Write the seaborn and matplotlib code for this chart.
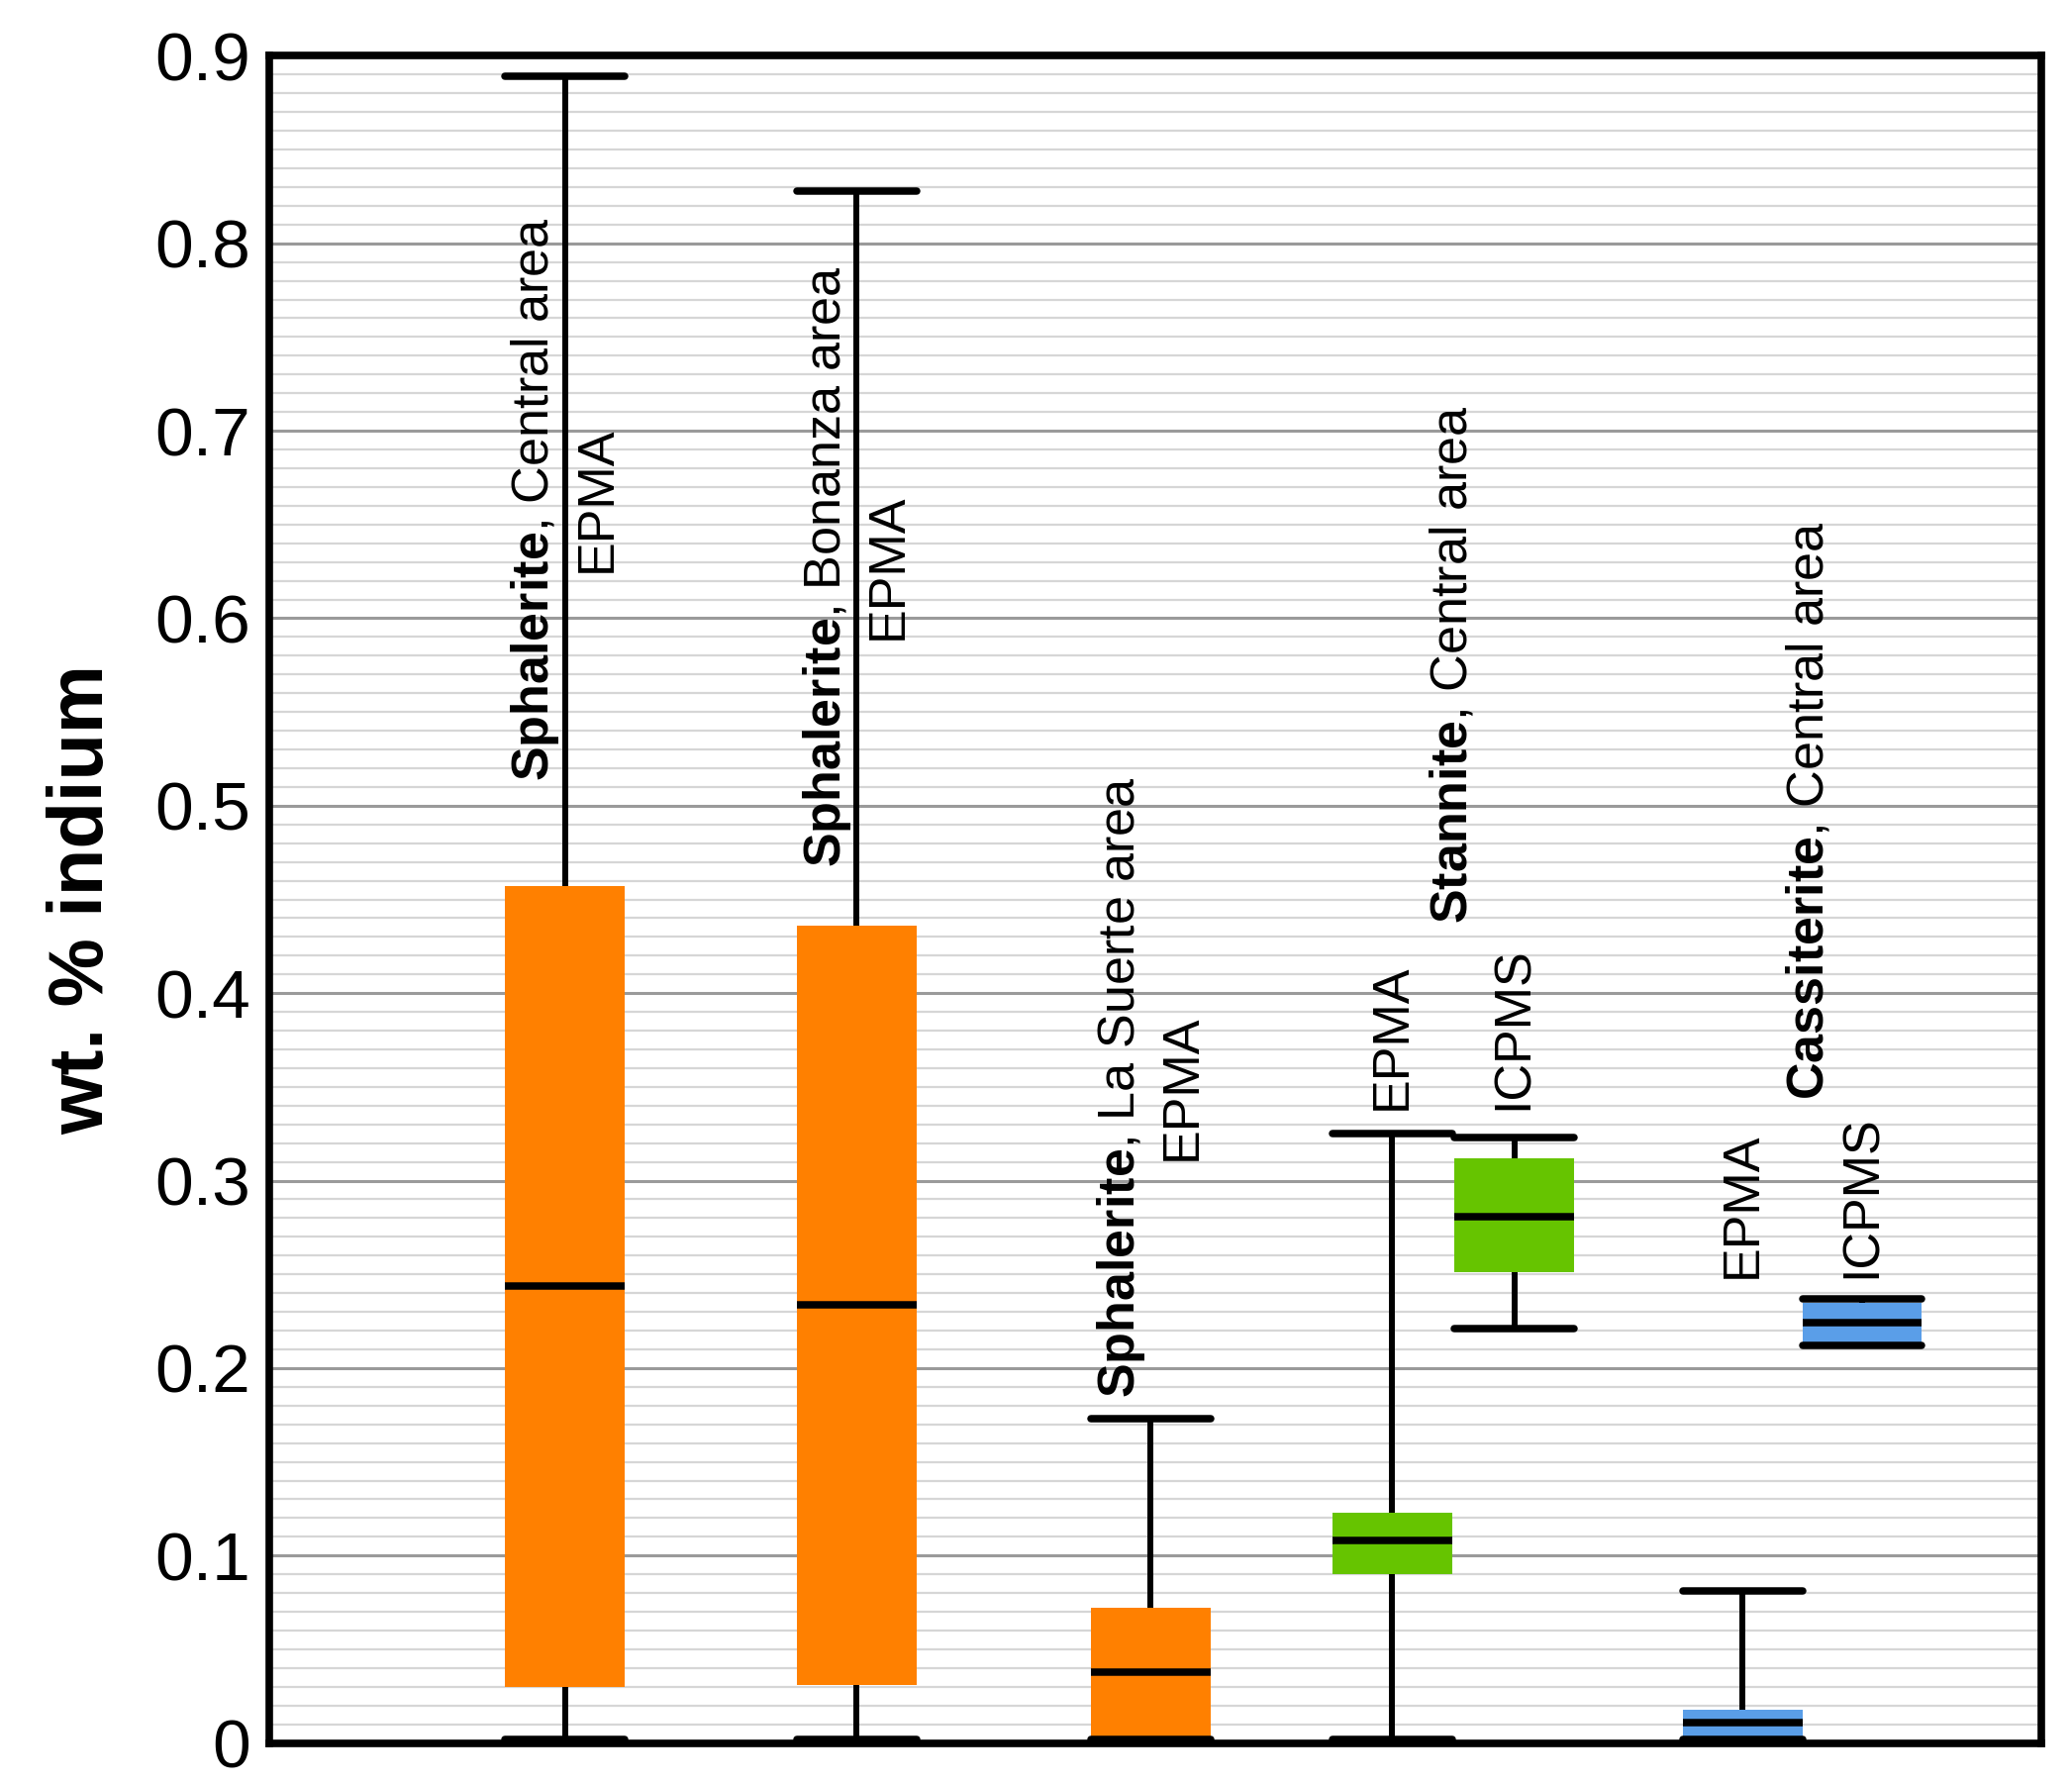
import numpy as np
import pandas as pd
import matplotlib.pyplot as plt
import seaborn as sns
from matplotlib.ticker import MultipleLocator, FuncFormatter

# box positions (native x scale, one unit = one box width) and five-number summaries
positions = [2.47, 4.91, 7.37, 9.39, 10.41, 12.32, 13.32]
minerals = ["Sphalerite", "Sphalerite", "Sphalerite", "Stannite", "Stannite",
            "Cassiterite", "Cassiterite"]
mins = [0.002, 0.002, 0.002, 0.002, 0.221, 0.002, 0.212]
q1s = [0.030, 0.031, 0.002, 0.090, 0.251, 0.002, 0.213]
medians = [0.244, 0.234, 0.038, 0.108, 0.281, 0.011, 0.224]
q3s = [0.457, 0.436, 0.072, 0.123, 0.312, 0.018, 0.235]
maxs = [0.889, 0.828, 0.173, 0.325, 0.323, 0.081, 0.237]

colors = {"Sphalerite": "#FF8000", "Stannite": "#66C400", "Cassiterite": "#5A9EE8"}

# annotation labels (rotated), x position and y of the label start
label_texts = [
    "$\\bf{Sphalerite}$, Central area\nEPMA",
    "$\\bf{Sphalerite}$, Bonanza area\nEPMA",
    "$\\bf{Sphalerite}$, La Suerte area\nEPMA",
    "EPMA",
    "$\\bf{Stannite}$, Central area",
    "ICPMS",
    "EPMA",
    "$\\bf{Cassiterite}$, Central area",
    "ICPMS",
]
label_x = [2.47, 4.91, 7.37, 9.39, 9.9, 10.41, 12.32, 12.88, 13.32]
label_y = [0.513, 0.467, 0.184, 0.338, 0.437, 0.338, 0.248, 0.343, 0.248]

# five values per box -> percentiles 25/50/75 land exactly on q1/median/q3
rows = []
for p, m, a, b, c, d, e in zip(positions, minerals, mins, q1s, medians, q3s, maxs):
    for v in (a, b, c, d, e):
        rows.append({"pos": p, "mineral": m, "wt": v})
df = pd.DataFrame(rows)

sns.set_theme(style="white")
plt.rcParams["font.family"] = ["Liberation Sans", "DejaVu Sans"]
plt.rcParams["mathtext.fontset"] = "custom"
plt.rcParams["mathtext.rm"] = "Liberation Sans"
plt.rcParams["mathtext.bf"] = "Liberation Sans:bold"
plt.rcParams["text.color"] = "black"
plt.rcParams["axes.labelcolor"] = "black"
plt.rcParams["ytick.color"] = "black"

fig = plt.figure(figsize=(20.93, 18.01), dpi=100)
ax = fig.add_axes([0.1301, 0.0224, 0.8552, 0.9463])

sns.boxplot(data=df, x="pos", y="wt", hue="mineral", palette=colors,
            saturation=1, native_scale=True, dodge=False, width=1.0,
            whis=(0, 100), showfliers=False, linecolor="black", linewidth=4.3,
            boxprops=dict(linewidth=0), medianprops=dict(linewidth=5.4),
            capprops=dict(linewidth=5.4), capwidths=1.0, legend=False, ax=ax)

ax.set_xlim(0, 14.82)
ax.set_ylim(0, 0.9)
ax.set_xticks([])
ax.set_xlabel("")
ax.yaxis.set_major_locator(MultipleLocator(0.1))
ax.yaxis.set_minor_locator(MultipleLocator(0.01))
ax.yaxis.set_major_formatter(FuncFormatter(lambda v, _: "0" if abs(v) < 1e-9 else f"{v:.1f}"))
ax.set_axisbelow(True)
ax.grid(which="minor", axis="y", color="#d6d6d6", linewidth=1.6)
ax.grid(which="major", axis="y", color="#9a9a9a", linewidth=2.2)
ax.tick_params(axis="y", which="both", length=0, pad=14, labelsize=50,
               labelcolor="black")
ax.set_ylabel("wt. % indium", fontsize=56, fontweight="bold", labelpad=26,
              color="black")

for s in ax.spines.values():
    s.set_color("black")
    s.set_linewidth(5.5)

for t, x, y in zip(label_texts, label_x, label_y):
    ax.text(x, y, t, rotation=90, ha="center", va="bottom",
            multialignment="center", linespacing=1.3, fontsize=37.5,
            color="black")

fig.savefig("out.png", dpi=100)
